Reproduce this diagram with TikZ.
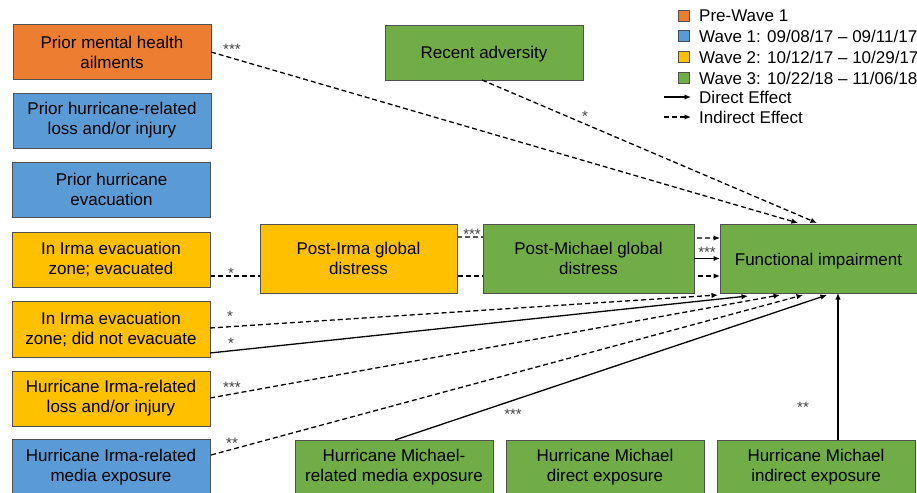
\documentclass[tikz,border=0pt]{standalone}
\usepackage{fontspec}
\setmainfont{Liberation Sans}
\usetikzlibrary{arrows.meta,calc,backgrounds}
\definecolor{cOrange}{HTML}{ED7D31}
\definecolor{cBlue}{HTML}{5B9BD5}
\definecolor{cYellow}{HTML}{FFC000}
\definecolor{cGreen}{HTML}{70AD47}
\definecolor{cEdge}{HTML}{505050}
\begin{document}
\begin{tikzpicture}[x=1pt,y=-1pt,
  box/.style={draw=cEdge, line width=0.9pt, minimum width=198pt, minimum height=55pt,
    inner sep=0pt, outer sep=0pt, align=center, font=\fontsize{17}{20}\selectfont},
  oneline/.style={text height=13pt, text depth=0pt},
  dir/.style={line width=1.3pt, -{Latex[length=6.5pt,width=5.5pt]}},
  ind/.style={dir, dash pattern=on 5pt off 3pt},
  sig/.style={font=\fontsize{15}{15}\selectfont, text=black!75, inner sep=0pt, yshift=-3pt},
  legsq/.style={draw=cEdge, line width=0.7pt, minimum size=11pt, inner sep=0pt},
  legtx/.style={anchor=west, inner sep=0pt, font=\fontsize{17}{20}\selectfont}
]
\useasboundingbox (0,0) rectangle (917,492);

% left column
\node[box, fill=cOrange] (pmh) at (112,52) {Prior mental health\\ailments};
\node[box, fill=cBlue] (phl) at (112,120.5) {Prior hurricane-related\\loss and/or injury};
\node[box, fill=cBlue] (phe) at (111.5,189.5) {Prior hurricane\\evacuation};
\node[box, fill=cYellow] (ev) at (111,259.5) {In Irma evacuation\\zone; evacuated};
\node[box, fill=cYellow, minimum height=56pt] (dne) at (111,329) {In Irma evacuation\\zone; did not evacuate};
\node[box, fill=cYellow] (loss) at (111,398.5) {Hurricane Irma-related\\loss and/or injury};
\node[box, fill=cBlue, minimum height=56pt] (media) at (111,467) {Hurricane Irma-related\\media exposure};

% middle
\node[box, oneline, fill=cGreen] (ra) at (484,52.5) {Recent adversity};
\node[box, fill=cYellow, minimum width=197pt, minimum height=69pt] (pirma) at (358.5,258.5) {Post-Irma global\\distress};
\node[box, fill=cGreen, minimum width=211pt, minimum height=69pt] (pmich) at (588.5,258.5) {Post-Michael global\\distress};
\node[box, oneline, fill=cGreen, minimum width=197pt, minimum height=69pt] (fi) at (818.5,258.5) {Functional impairment};

% bottom
\node[box, fill=cGreen] (mm) at (394,467.5) {Hurricane Michael-\\related media exposure};
\node[box, fill=cGreen] (md) at (605,467.5) {Hurricane Michael\\direct exposure};
\node[box, fill=cGreen] (mi) at (816,467.5) {Hurricane Michael\\indirect exposure};

% connectors behind the distress boxes
\begin{pgfonlayer}{background}
\draw[ind] ($(pirma.north east)+(0,13)$) -- ($(fi.north west)+(0,14)$);
\draw[ind] ($(ev.north east)+(0,44)$) -- ($(fi.north west)+(0,52)$);
\end{pgfonlayer}

\draw[ind] (pmh.east) -- ($(fi.north west)+(78,-1)$);
\draw[ind] ($(ra.south west)+(97,0)$) -- ($(fi.north west)+(97,-1)$);
\draw[dir] (pmich.east) -- (fi.west);
\draw[ind] ($(dne.north east)+(0,27)$) -- ($(fi.south west)+(-2,2)$);
\draw[dir] ($(dne.north east)+(0,52)$) -- ($(fi.south west)+(28,3)$);
\draw[ind] ($(loss.north east)+(0,27)$) -- ($(fi.south west)+(60,2)$);
\draw[ind] ($(media.north east)+(1,16)$) -- ($(fi.south west)+(83,2)$);
\draw[dir] ($(mm.north west)+(100,0)$) -- ($(fi.south west)+(107,2)$);
\draw[dir] ($(mi.north west)+(121,0)$) coordinate (mtop) -- (mtop |- fi.south);

% significance labels
\node[sig] (s1) at (232,46) {***};
\node[sig] (s2) at (585,113) {*};
\node[sig] (s3) at (472,231) {***};
\node[sig] (s4) at (707,249) {***};
\node[sig] (s5) at (231,270) {*};
\node[sig] (s6) at (230,313) {*};
\node[sig] (s7) at (231,340) {*};
\node[sig] (s8) at (232,384) {***};
\node[sig] (s9) at (232,440) {**};
\node[sig] (s10) at (513,411) {***};
\node[sig] (s11) at (803,404) {**};

% legend
\node[legsq, fill=cOrange] (q1) at (684,16) {};
\node[legsq, fill=cBlue] (q2) at (684,36) {};
\node[legsq, fill=cYellow] (q3) at (684,57) {};
\node[legsq, fill=cGreen] (q4) at (684,78) {};
\node[legtx] (t1) at (699,16) {Pre-Wave 1};
\node[legtx] (t2) at (699,36) {Wave 1: 09/08/17 – 09/11/17};
\node[legtx] (t3) at (699,57) {Wave 2: 10/12/17 – 10/29/17};
\node[legtx] (t4) at (699,78) {Wave 3: 10/22/18 – 11/06/18};
\coordinate (la1) at (664,97);
\coordinate (la2) at (691,97);
\coordinate (lb1) at (664,117);
\coordinate (lb2) at (691,117);
\draw[dir] (la1) -- (la2);
\draw[ind] (lb1) -- (lb2);
\node[legtx] (t5) at (699,97) {Direct Effect};
\node[legtx] (t6) at (699,117) {Indirect Effect};
\end{tikzpicture}
\end{document}
